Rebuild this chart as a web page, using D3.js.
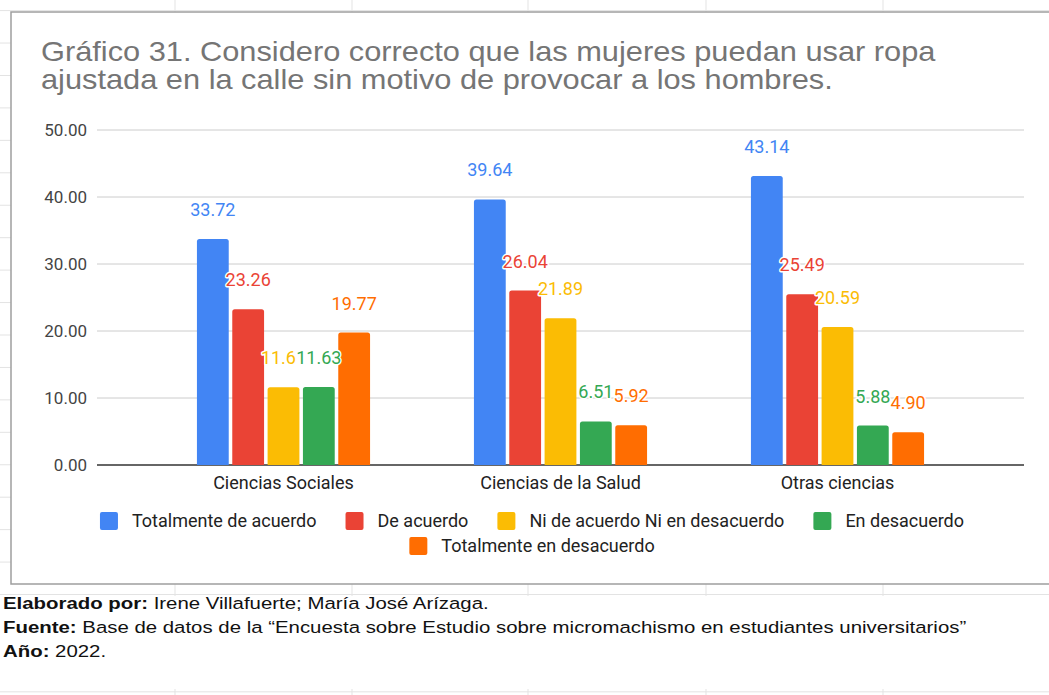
<!DOCTYPE html>
<html>
<head>
<meta charset="utf-8">
<script src="https://cdnjs.cloudflare.com/ajax/libs/d3/7.8.5/d3.min.js"></script>
<style>
  body { margin: 0; background: #fff; }
  svg { display: block; }
</style>
</head>
<body>
<svg id="chart" width="1049" height="695"></svg>
<script>
// data
var categories = ["Ciencias Sociales", "Ciencias de la Salud", "Otras ciencias"];
var seriesNames = ["Totalmente de acuerdo", "De acuerdo", "Ni de acuerdo Ni en desacuerdo", "En desacuerdo", "Totalmente en desacuerdo"];
var totalmenteAcuerdo = [33.72, 39.64, 43.14];
var deAcuerdo = [23.26, 26.04, 25.49];
var niNi = [11.61, 21.89, 20.59];
var enDesacuerdo = [11.63, 6.51, 5.88];
var totalmenteDesacuerdo = [19.77, 5.92, 4.90];
var yTicks = [0, 10, 20, 30, 40, 50];
var colors = ["#4285f4", "#ea4335", "#fbbc04", "#34a853", "#ff6d01"];

var titleLines = ["Gráfico 31. Considero correcto que las mujeres puedan usar ropa",
                  "ajustada en la calle sin motivo de provocar a los hombres."];
var notes = [
  {b: "Elaborado por:", t: " Irene Villafuerte; María José Arízaga."},
  {b: "Fuente:", t: " Base de datos de la “Encuesta sobre Estudio sobre micromachismo en estudiantes universitarios”"},
  {b: "Año:", t: " 2022."}
];

var allSeries = [totalmenteAcuerdo, deAcuerdo, niNi, enDesacuerdo, totalmenteDesacuerdo];

var svg = d3.select("#chart");

// spreadsheet grid behind the chart
var sheet = svg.append("g");
d3.range(0, 22).forEach(function(k) {
  var yy = 10.6 + k * 32.44;
  sheet.append("line").attr("x1", 0).attr("x2", 1049).attr("y1", yy).attr("y2", yy)
    .attr("stroke", "#e3e3e3").attr("stroke-width", 1);
});
[175, 352, 528, 706, 883].forEach(function(xx) {
  sheet.append("line").attr("x1", xx).attr("x2", xx).attr("y1", 0).attr("y2", 695)
    .attr("stroke", "#e3e3e3").attr("stroke-width", 1);
});

// chart box
svg.append("rect").attr("x", 11).attr("y", 12).attr("width", 1060).attr("height", 572)
  .attr("fill", "#fff").attr("stroke", "#9e9e9e").attr("stroke-width", 1.5);

// title (the screenshot is stretched sideways a bit)
svg.append("text").attr("transform", "translate(41,61) scale(1.14,1)")
  .attr("font-family", "Liberation Sans, Arial, sans-serif").attr("font-size", 27)
  .attr("fill", "#757575")
  .selectAll("tspan").data(titleLines).enter().append("tspan")
  .attr("x", 0).attr("y", function(d, i) { return i * 28; })
  .text(function(d) { return d; });

// scales
var y = d3.scaleLinear().domain([0, 50]).range([465, 130]);
var x0 = d3.scaleBand().domain(categories).range([145, 976]).paddingInner(0.375).paddingOuter(0.1875);
var x1 = d3.scaleBand().domain(d3.range(seriesNames.length)).range([0, x0.bandwidth()]).paddingInner(0.1);

// gridlines + y labels
var grid = svg.append("g");
grid.selectAll("line").data(yTicks).enter().append("line")
  .attr("x1", 97).attr("x2", 1024)
  .attr("y1", function(d) { return y(d); }).attr("y2", function(d) { return y(d); })
  .attr("stroke", function(d) { return d == 0 ? "#333" : "#ccc"; })
  .attr("stroke-width", function(d) { return d == 0 ? 1.3 : 1; });

var yAxis = d3.axisLeft(y).tickValues(yTicks).tickFormat(d3.format(".2f")).tickSize(0).tickPadding(0);
var ya = svg.append("g").attr("transform", "translate(87,0)").call(yAxis);
ya.select(".domain").remove();
ya.selectAll("text").attr("font-family", "Roboto, sans-serif").attr("font-size", 17).attr("fill", "#444");

// bars
function barPath(x, w, y0, y1, r) {
  var h = y1 - y0;
  if (h < r) r = h;
  return "M" + x + "," + y1 + "V" + (y0 + r) + "Q" + x + "," + y0 + " " + (x + r) + "," + y0 +
    "H" + (x + w - r) + "Q" + (x + w) + "," + y0 + " " + (x + w) + "," + (y0 + r) + "V" + y1 + "Z";
}

var groups = svg.append("g").selectAll("g").data(categories).enter().append("g")
  .attr("transform", function(d) { return "translate(" + x0(d) + ",0)"; });

groups.each(function(cat, ci) {
  var g = d3.select(this);
  allSeries.forEach(function(vals, si) {
    g.append("path")
      .attr("d", barPath(x1(si), x1.bandwidth(), y(vals[ci]), y(0), 2.5))
      .attr("fill", colors[si]);
  });
});

// value labels, drawn after bars so halos sit on top
groups.each(function(cat, ci) {
  var g = d3.select(this);
  allSeries.forEach(function(vals, si) {
    g.append("text")
      .attr("x", x1(si) + x1.bandwidth() / 2)
      .attr("y", y(vals[ci]) - 23)
      .attr("text-anchor", "middle")
      .attr("font-family", "Roboto, sans-serif").attr("font-size", 18)
      .attr("fill", colors[si])
      .attr("stroke", "#fff").attr("stroke-width", 3).attr("stroke-linejoin", "round")
      .attr("paint-order", "stroke")
      .text(d3.format(".2f")(vals[ci]));
  });
});

// category labels
svg.append("g").selectAll("text").data(categories).enter().append("text")
  .attr("x", function(d) { return x0(d) + x0.bandwidth() / 2; })
  .attr("y", 489)
  .attr("text-anchor", "middle")
  .attr("font-family", "Roboto, sans-serif").attr("font-size", 18).attr("fill", "#222")
  .text(function(d) { return d; });

// legend
var legendRows = [[0, 1, 2, 3], [4]];
var legend = svg.append("g");
legendRows.forEach(function(row, ri) {
  var ly = 521 + ri * 25;
  var items = row.map(function(si) {
    var it = legend.append("g");
    it.append("rect").attr("x", 0).attr("y", ly - 9).attr("width", 18).attr("height", 18)
      .attr("rx", 2).attr("fill", colors[si]);
    var t = it.append("text").attr("x", 32).attr("y", ly + 6)
      .attr("font-family", "Roboto, sans-serif").attr("font-size", 18).attr("fill", "#222")
      .text(seriesNames[si]);
    return {g: it, w: 32 + t.node().getComputedTextLength()};
  });
  var gap = 29;
  var total = d3.sum(items, function(d) { return d.w; }) + gap * (items.length - 1);
  var cx = 532 - total / 2;
  items.forEach(function(d) {
    d.g.attr("transform", "translate(" + cx + ",0)");
    cx += d.w + gap;
  });
});

// footnote block (white background as pasted)
svg.append("rect").attr("x", 0).attr("y", 596).attr("width", 1049).attr("height", 93).attr("fill", "#fff");
var notesG = svg.append("g");
notes.forEach(function(n, i) {
  var t = notesG.append("text").attr("transform", "translate(3," + (609 + i * 24.2) + ") scale(1.2,1)")
    .attr("font-family", "Liberation Sans, Arial, sans-serif").attr("font-size", 17).attr("fill", "#111");
  t.append("tspan").attr("font-weight", "bold").text(n.b);
  t.append("tspan").text(n.t);
});
</script>
</body>
</html>
